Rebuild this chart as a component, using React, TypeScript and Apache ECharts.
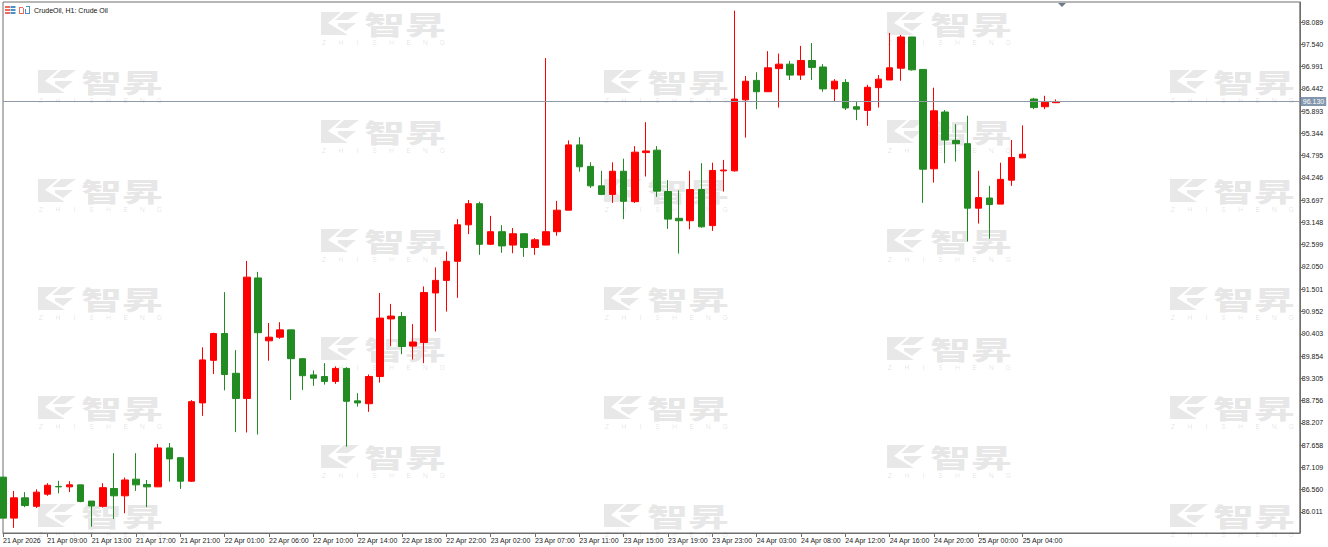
import React, { useEffect, useRef } from "react";
import * as echarts from "echarts";

const title = "CrudeOil, H1: Crude Oil";
const currentPrice = 96.13;
const tickLabels = ["21 Apr 2026","21 Apr 09:00","21 Apr 13:00","21 Apr 17:00","21 Apr 21:00","22 Apr 01:00","22 Apr 06:00","22 Apr 10:00","22 Apr 14:00","22 Apr 18:00","22 Apr 22:00","23 Apr 02:00","23 Apr 07:00","23 Apr 11:00","23 Apr 15:00","23 Apr 19:00","23 Apr 23:00","24 Apr 03:00","24 Apr 08:00","24 Apr 12:00","24 Apr 16:00","24 Apr 20:00","25 Apr 00:00","25 Apr 04:00"];
const priceTicks = [98.089,97.54,96.991,96.442,95.893,95.344,94.795,94.246,93.697,93.148,92.599,92.05,91.501,90.952,90.403,89.854,89.305,88.756,88.207,87.658,87.109,86.56,86.011];

const opens = [86.87,85.86,86.36,86.15,86.45,86.64,86.63,86.68,86.28,86.15,86.59,86.41,86.82,86.69,86.63,87.59,87.35,86.77,88.70,89.75,90.41,89.43,88.81,91.78,90.23,90.32,90.50,89.79,89.39,89.35,89.23,89.55,88.75,88.68,89.35,90.77,90.83,90.10,90.19,91.41,91.72,92.19,93.09,93.61,92.61,92.92,92.59,92.87,92.53,92.59,92.92,93.45,95.06,94.53,94.05,93.84,94.41,93.66,94.87,94.93,93.91,93.25,93.19,93.96,93.07,94.42,94.42,96.17,96.65,96.37,96.94,97.05,96.78,97.14,96.98,96.44,96.60,96.00,95.91,96.47,96.66,96.95,97.72,96.92,94.47,95.87,95.17,95.09,93.50,93.75,93.60,94.19,94.74,96.19,96.00,96.10];
const closes = [85.86,86.36,86.17,86.50,86.67,86.63,86.68,86.27,86.16,86.61,86.41,86.80,86.68,86.63,87.59,87.32,86.77,88.73,89.76,90.41,89.40,88.81,91.80,90.43,90.32,90.50,89.79,89.37,89.31,89.23,89.55,88.74,88.70,89.35,90.79,90.84,90.09,90.20,91.42,91.72,92.19,93.09,93.61,92.61,92.92,92.57,92.87,92.53,92.72,92.92,93.45,95.06,94.52,94.05,93.84,94.41,93.67,94.88,94.91,93.92,93.23,93.19,93.96,93.04,94.43,94.44,96.19,96.63,96.37,96.96,97.05,96.78,97.14,96.97,96.44,96.63,95.97,95.94,96.48,96.68,96.96,97.72,96.91,94.46,95.90,95.18,95.09,93.50,93.76,93.59,94.21,94.75,94.83,95.98,96.11,96.13];
const lows = [85.86,85.62,86.13,86.11,86.41,86.47,86.50,86.25,85.65,86.12,85.84,85.98,86.53,86.13,86.63,86.76,86.58,86.75,88.38,89.41,89.01,87.98,87.97,87.92,89.74,90.28,88.77,89.02,89.12,89.15,89.17,87.62,88.61,88.48,89.20,90.10,89.90,89.77,89.68,90.46,90.95,91.29,92.86,92.35,92.59,92.40,92.39,92.30,92.35,92.59,92.82,93.45,94.40,94.00,93.82,93.63,93.23,93.63,94.28,93.78,92.99,92.38,92.98,93.02,92.94,93.91,94.40,95.24,95.94,96.37,95.98,96.66,96.66,96.66,96.37,96.12,95.92,95.67,95.53,95.98,96.66,96.64,96.89,93.63,94.13,94.61,94.65,92.68,93.12,92.75,93.60,94.05,94.74,95.94,95.94,96.09];
const highs = [86.87,86.53,86.50,86.57,86.72,86.78,86.77,86.68,86.28,86.72,87.46,86.86,87.46,86.80,87.69,87.71,87.35,88.77,90.07,90.43,91.43,90.00,92.20,91.93,90.67,90.69,90.50,89.79,89.50,89.68,89.60,89.58,88.94,89.40,91.41,91.14,90.94,90.64,91.57,92.04,92.43,93.23,93.70,93.66,93.31,93.08,93.01,92.87,92.76,97.20,93.68,95.17,95.25,94.63,94.42,94.63,94.72,95.03,95.62,95.03,94.19,93.94,94.42,94.61,94.62,94.69,98.37,96.76,96.85,97.37,97.31,97.13,97.50,97.57,97.05,96.68,96.68,96.13,96.54,96.78,97.82,97.77,97.72,96.92,96.47,95.92,95.57,95.78,94.42,94.05,94.62,95.18,95.54,96.22,96.27,96.18];

const slotCount = 118;
const categories = Array.from({ length: slotCount }, (_, i) => (i % 4 === 0 && i / 4 < tickLabels.length ? tickLabels[i / 4] : ""));
const candles = opens.map((o, i) => [o, closes[i], lows[i], highs[i]]);
const showTick = (i: number) => i % 4 === 0 && i / 4 < tickLabels.length;

const axisFont = "Liberation Sans";
const wmColumns = [
  { x: 38, rows: [70, 179, 287, 396, 504] },
  { x: 321, rows: [12, 120, 229, 337, 445] },
  { x: 604, rows: [70, 179, 287, 396, 504] },
  { x: 887, rows: [12, 120, 229, 337, 445] },
  { x: 1170, rows: [70, 179, 287, 396, 504] },
];
const wmLetters = "ZHISHENG".split("");
const wmFill = "rgba(0,0,0,0.09)";

function watermark(x: number, y: number) {
  const poly = (points: number[][]) => ({ type: "polygon", shape: { points }, style: { fill: wmFill } });
  return {
    type: "group",
    x,
    y,
    silent: true,
    children: [
      poly([[0, 0], [20, 0], [7, 11], [27, 23], [0, 23]]),
      poly([[23, 0], [38, 0], [27, 8], [14, 8]]),
      poly([[17, 11], [35, 11], [25, 19], [17, 14]]),
      {
        type: "text",
        x: 43,
        y: -1.5,
        scaleY: 0.64,
        style: { text: "智昇", font: "900 41px 'Noto Sans CJK SC'", fill: wmFill, textVerticalAlign: "top" },
      },
      ...wmLetters.map((ch, i) => ({
        type: "text",
        x: 3 + i * 16.9,
        y: 27,
        style: { text: ch, font: "7px 'Liberation Sans'", fill: "rgba(0,0,0,0.13)", textAlign: "center", textVerticalAlign: "top" },
      })),
    ],
  };
}

export default function App() {
  const ref = useRef<HTMLDivElement>(null);
  useEffect(() => {
    document.body.style.margin = "0";
    const chart = echarts.init(ref.current!, undefined, { renderer: "svg" });
    const marks: any[] = [];
    wmColumns.forEach((c) => c.rows.forEach((r) => marks.push(watermark(c.x, r))));
    const rect = (x: number, y: number, width: number, height: number, fill: string) => ({ type: "rect", shape: { x, y, width, height }, style: { fill }, silent: true });
    chart.setOption({
      animation: false,
      backgroundColor: "#ffffff",
      grid: { left: 0.3, right: 28.2, top: 2, bottom: 14, show: true, borderColor: "#6e6e6e", borderWidth: 1, backgroundColor: "transparent" },
      xAxis: {
        type: "category",
        data: categories,
        boundaryGap: false,
        axisLine: { show: true, lineStyle: { color: "#6e6e6e" } },
        axisTick: { show: true, length: 4, interval: showTick, lineStyle: { color: "#6e6e6e" } },
        axisLabel: { interval: showTick, align: "left", margin: 3.5, fontFamily: axisFont, fontSize: 7, color: "#222", hideOverlap: false },
        splitLine: { show: false },
      },
      yAxis: {
        type: "value",
        position: "right",
        min: 85.493,
        max: 98.582,
        scale: true,
        axisLine: { show: true, lineStyle: { color: "#6e6e6e" } },
        axisTick: { show: true, length: 3, customValues: priceTicks, lineStyle: { color: "#6e6e6e" } },
        axisLabel: { customValues: priceTicks, margin: 2, fontFamily: axisFont, fontSize: 7, color: "#222", formatter: (v: number) => v.toFixed(3) },
        splitLine: { show: false },
      },
      series: [
        {
          type: "candlestick",
          data: candles,
          barWidth: 7,
          itemStyle: { color: "#ff0000", color0: "#228b22", borderColor: "#ff0000", borderColor0: "#228b22", borderWidth: 1 },
          markLine: {
            silent: true,
            symbol: "none",
            lineStyle: { color: "#8f9aa6", type: "solid", width: 1 },
            data: [{ yAxis: currentPrice }],
            label: {
              show: true,
              position: "end",
              distance: 1,
              formatter: () => currentPrice.toFixed(3),
              backgroundColor: "#8296ad",
              color: "#ffffff",
              fontFamily: axisFont,
              fontSize: 7,
              padding: [1, 2, 1, 2],
            },
          },
        },
      ],
      graphic: [
        ...marks.map((m) => ({ ...m, z: 100 })),
        { type: "group", silent: true, children: [
          rect(5, 6, 5, 2, "#ef6a5a"), rect(5, 9, 5, 2, "#ef6a5a"), rect(5, 12, 5, 2, "#ef6a5a"),
          rect(10.5, 6, 5, 2, "#4a90c8"), rect(10.5, 9, 5, 2, "#4a90c8"), rect(10.5, 12, 5, 2, "#4a90c8"),
          rect(19, 7, 1, 7, "#ef6a5a"), rect(19, 13, 5, 1, "#ef6a5a"), rect(23, 8, 1, 6, "#ef6a5a"), rect(20, 7, 3, 1, "#ef6a5a"),
          rect(25, 9, 1, 5, "#4a90c8"), rect(25, 13, 5, 1, "#4a90c8"), rect(29, 6, 1, 8, "#4a90c8"), rect(26, 6, 3, 1, "#4a90c8"),
        ] },
        { type: "text", x: 34, y: 6.5, silent: true, style: { text: title, font: `7px '${axisFont}'`, fill: "#111", textVerticalAlign: "top" } },
        { type: "polygon", silent: true, shape: { points: [[1058, 3], [1066, 3], [1062, 7]] }, style: { fill: "#6b7b8c" } },
      ],
    });
    return () => chart.dispose();
  }, []);
  return <div ref={ref} style={{ position: "absolute", left: 0, top: 0, width: 1328, height: 547 }} />;
}
